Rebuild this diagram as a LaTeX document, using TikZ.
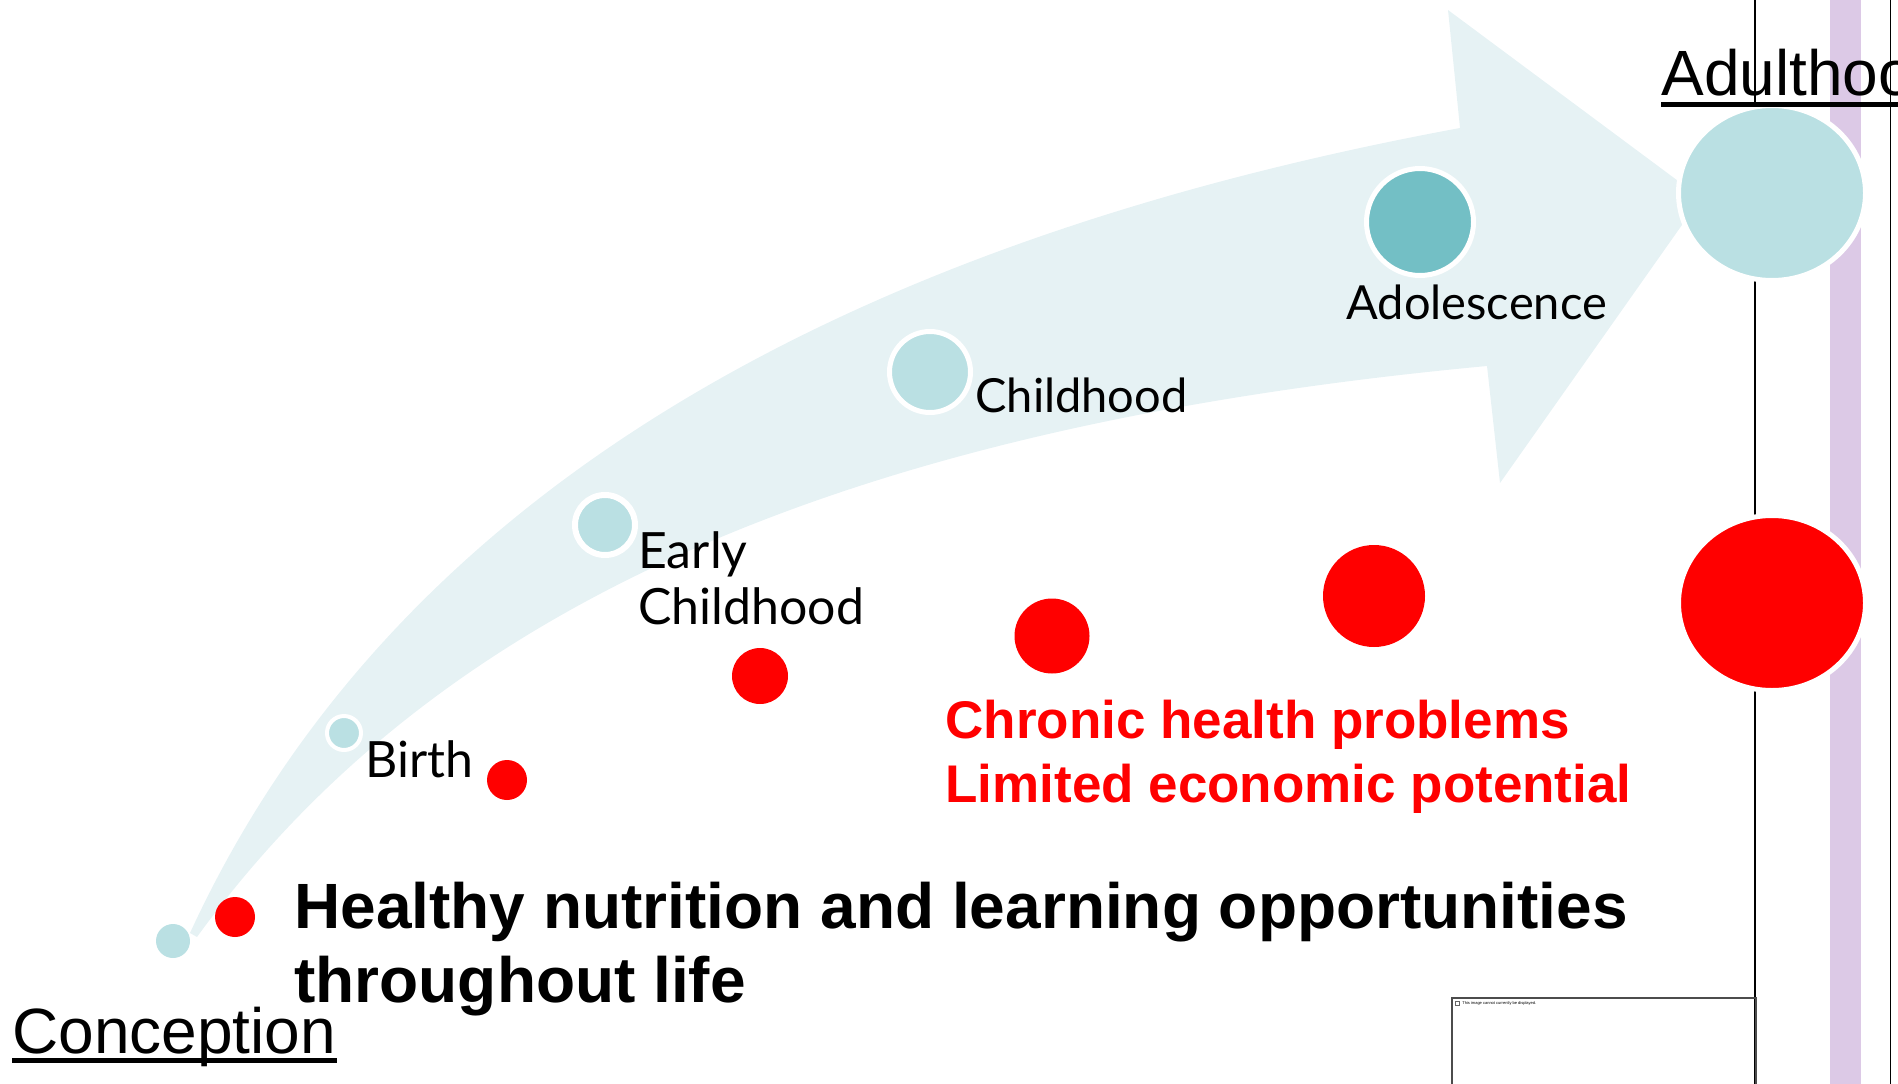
\documentclass[tikz,border=0pt]{standalone}
\usepackage{fontspec}
\setmainfont{Liberation Sans}
\newfontfamily\stagefont{Lato}
\usetikzlibrary{shapes.geometric}
\definecolor{arrowblue}{RGB}{230,242,244}
\definecolor{dotblue}{RGB}{186,224,227}
\definecolor{teenblue}{RGB}{115,191,197}
\definecolor{barpurple}{RGB}{220,201,230}
\tikzset{every picture/.style={line width=0.75pt}}
\tikzset{
  stagedot/.style={circle, fill=dotblue, draw=white, inner sep=0pt},
  riskdot/.style={circle, fill=red, inner sep=0pt},
  stagelabel/.style={anchor=base west, inner sep=0pt, align=left,
                     font=\stagefont\fontsize{47}{56}\selectfont},
  endlabel/.style={anchor=base west, inner sep=0pt,
                   font=\fontsize{64}{70}\selectfont},
}

\begin{document}
\begin{tikzpicture}[x=1pt,y=1pt,yscale=-1]
      \useasboundingbox (0,0) rectangle (1898,1084);
      % frame on the right
      \draw [line width=1.2pt] (1755,0) -- (1755,1084);
      \fill [barpurple] (1830,0) rectangle (1861,1084);
      \draw [line width=1pt] (1890,0) -- (1890,1084);
      \draw [line width=1.5pt, draw=black!70] (1452,998) rectangle (1756,1090);
      \draw [line width=0.5pt, draw=black!60] (1455,1001) rectangle (1459,1005);
      \node [anchor=north west, inner sep=0pt, font=\fontsize{4}{5}\selectfont] (missing) at (1462,1001)
            {This image cannot currently be displayed.};
      % big arrow
      \fill [arrowblue] (190,933) .. controls (380,520) and (800,250) .. (1460,128)
            -- (1448,10) -- (1701,198) -- (1500,483) -- (1487,366)
            .. controls (800,430) and (420,630) .. (197,937) -- cycle;
      % stages
      \node [stagedot, draw=none, minimum size=34pt] (conc) at (173,941) {};
      \node [stagedot, line width=4pt, minimum size=34pt] (birth) at (344,733) {};
      \node [stagedot, line width=6pt, minimum size=60pt] (early) at (605,525) {};
      \node [stagedot, line width=5pt, minimum size=81pt] (child) at (930,372) {};
      \node [stagedot, fill=teenblue, line width=5pt, minimum size=107pt] (teen) at (1420,222) {};
      \node [stagedot, ellipse, line width=5pt, minimum width=187pt, minimum height=175pt] (adult) at (1772,193) {};
      % risks
      \node [riskdot, minimum size=40pt] (rconc) at (235,917) {};
      \node [riskdot, minimum size=40pt] (rbirth) at (507,780) {};
      \node [riskdot, minimum size=56pt] (rearly) at (760,676) {};
      \node [riskdot, minimum size=75pt] (rchild) at (1052,636) {};
      \node [riskdot, minimum size=102pt] (rteen) at (1374,596) {};
      \node [riskdot, ellipse, draw=white, line width=5pt, minimum width=187pt, minimum height=175pt] (radult) at (1772,603) {};
      % labels
      \node [stagelabel, font=\stagefont\fontsize{50}{56}\selectfont] (lbirth) at (365,777) {Birth};
      \node [stagelabel, font=\stagefont\fontsize{50}{56}\selectfont] (learly) at (638,624) {Early\\Childhood};
      \node [stagelabel] (lchild) at (975,412) {Childhood};
      \node [stagelabel] (lteen) at (1346,319) {Adolescence};
      \node [endlabel] (lconc) at (12,1053) {Conception};
      \draw [line width=5pt] ([yshift=7pt]lconc.base west) -- ([yshift=7pt]lconc.base east);
      \node [endlabel] (ladult) at (1661,95) {Adulthood};
      \draw [line width=5pt] ([yshift=9pt]ladult.base west) -- ([yshift=9pt]ladult.base east);
      \node [anchor=base west, inner sep=0pt, align=left, font=\bfseries\fontsize{64}{74}\selectfont] (good) at (294,1002)
            {Healthy nutrition and learning opportunities\\throughout life};
      \node [anchor=base west, inner sep=0pt, align=left, text=red, font=\bfseries\fontsize{53}{64}\selectfont] (bad) at (945,802)
            {Chronic health problems\\Limited economic potential};
\end{tikzpicture}
\end{document}
